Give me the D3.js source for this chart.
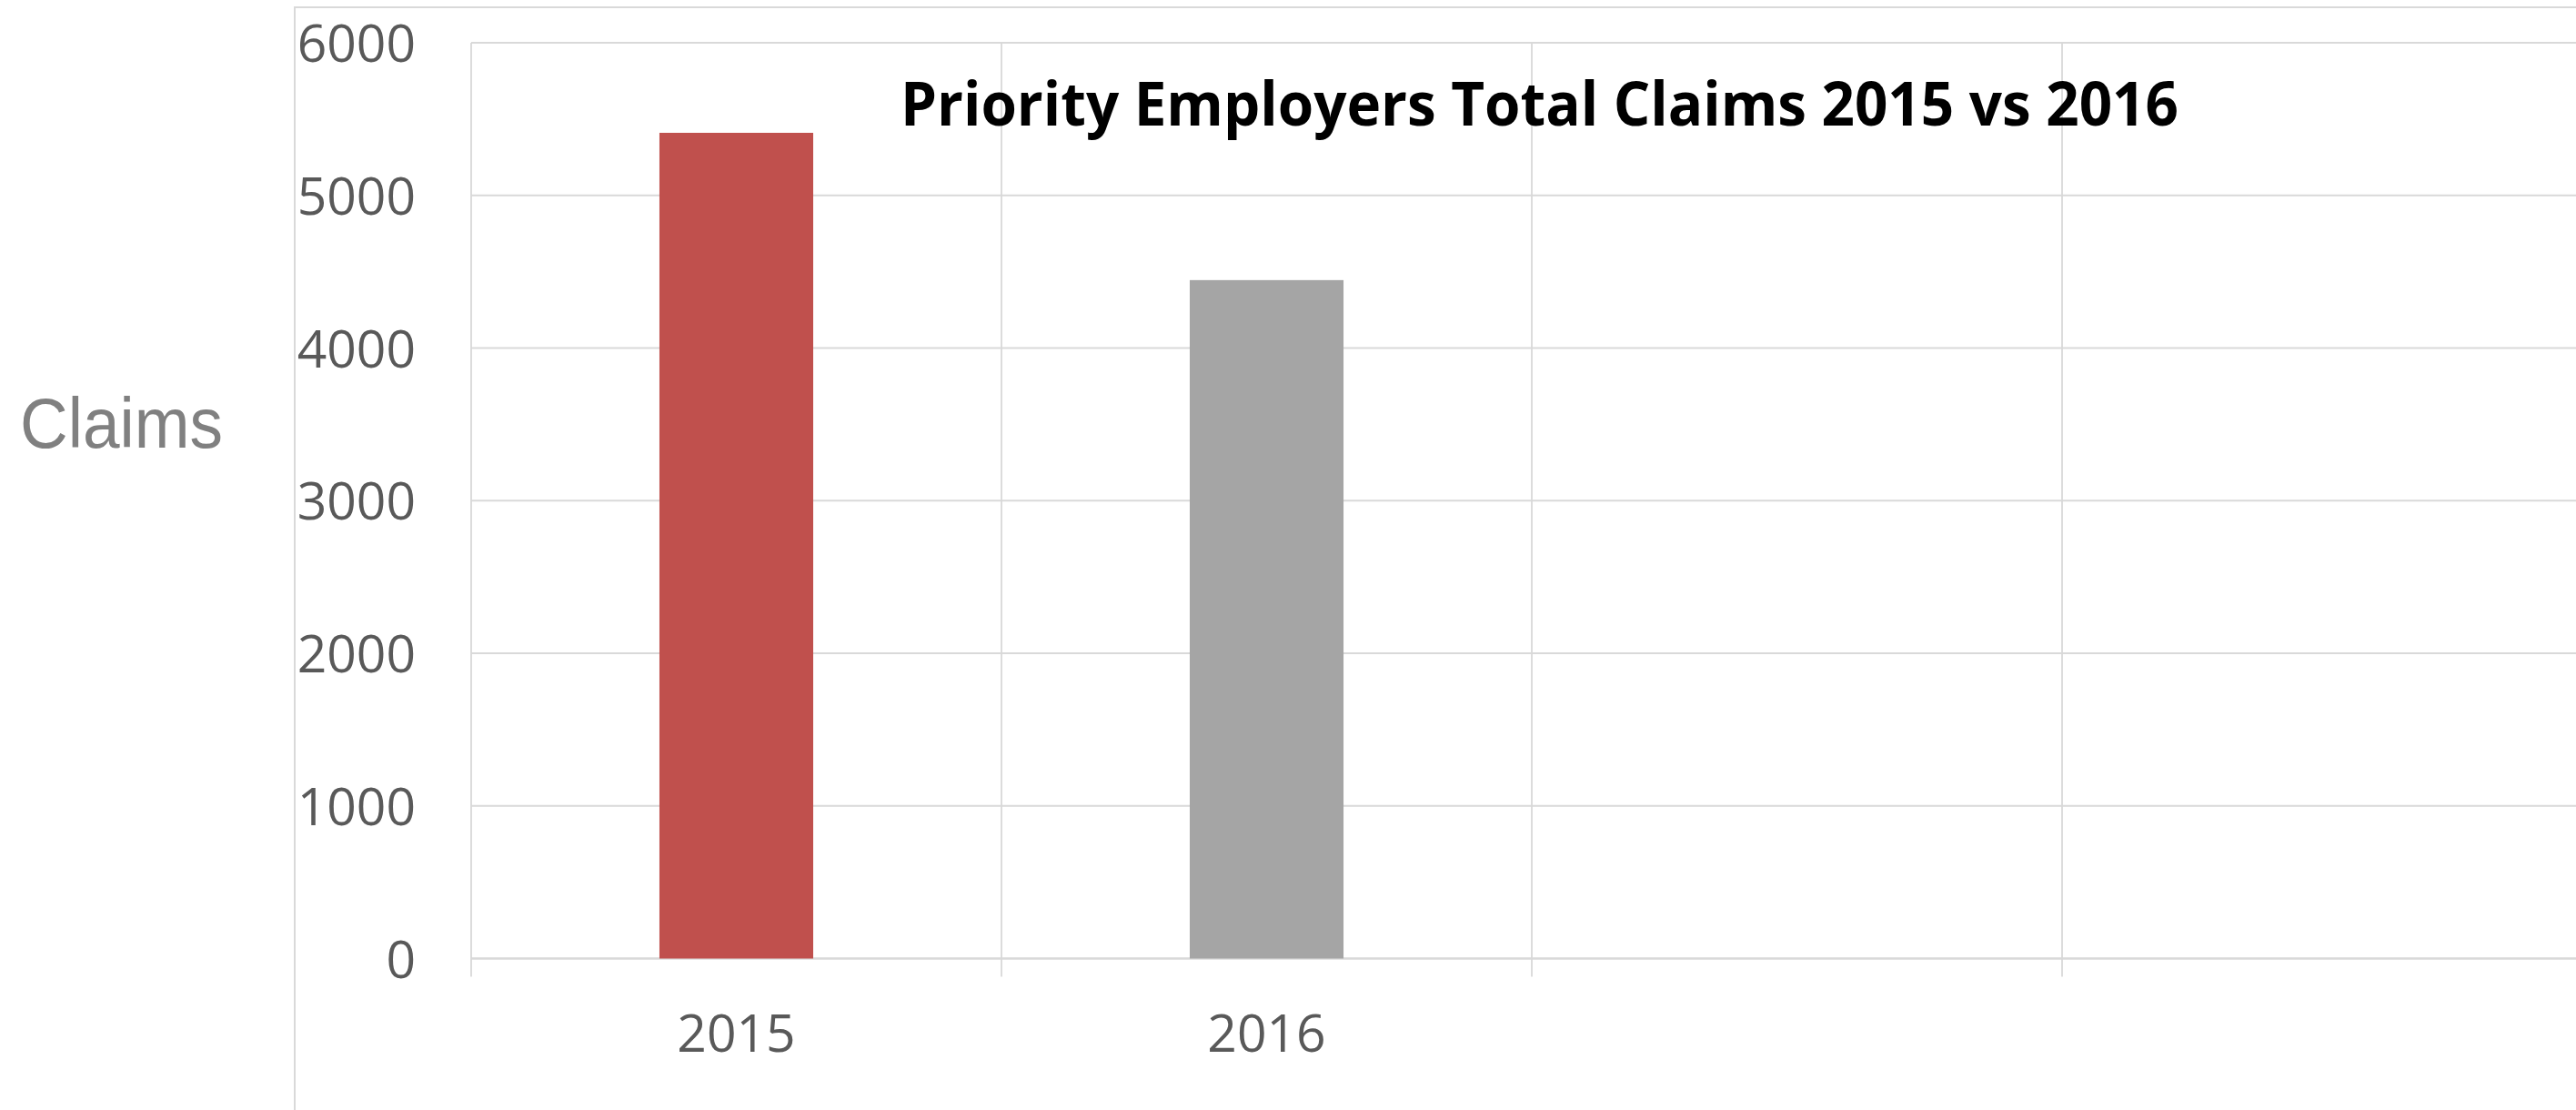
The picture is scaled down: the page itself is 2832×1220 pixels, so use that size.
<!DOCTYPE html>
<html>
<head>
<meta charset="utf-8">
<script src="https://cdn.jsdelivr.net/npm/d3@7"></script>
<style>
	body { margin: 0; background: #fff; }
	svg { display: block; }
</style>
</head>
<body>
<svg id="chart" width="2832" height="1220"></svg>
<script>
// chart data
var categories = ["2015", "2016"];
var claims = [5410, 4445];
var barColors = ["#C0504D", "#A5A5A5"];
var yTicks = [0, 1000, 2000, 3000, 4000, 5000, 6000];
var slotCount = 4; // two empty category slots on the right

var svg = d3.select("#chart");

var plot = {left: 518, top: 47, bottom: 1053.5, slot: 583};
plot.right = plot.left + plot.slot * slotCount;

var x = d3.scaleBand()
	.domain(d3.range(slotCount))
	.range([plot.left, plot.right])
	.paddingInner(0)
	.paddingOuter(0);

var y = d3.scaleLinear()
	.domain([0, 6000])
	.range([plot.bottom, plot.top]);

// outer chart frame
svg.append("rect")
	.attr("x", 324)
	.attr("y", 8)
	.attr("width", 2700)
	.attr("height", 1400)
	.attr("fill", "none")
	.attr("stroke", "#d9d9d9")
	.attr("stroke-width", 2);

// horizontal gridlines
svg.selectAll(".hgrid")
	.data(yTicks)
	.enter()
	.append("line")
	.attr("class", "hgrid")
	.attr("x1", plot.left)
	.attr("x2", plot.right)
	.attr("y1", function(d) {return y(d);})
	.attr("y2", function(d) {return y(d);})
	.attr("stroke", "#d9d9d9")
	.attr("stroke-width", function(d) {return d == 0 ? 2.5 : 1.8;});

// vertical category separators (with tick below the baseline)
var edges = d3.range(slotCount).map(function(i) {return x(i);}).concat([plot.right]);
svg.selectAll(".vgrid")
	.data(edges)
	.enter()
	.append("line")
	.attr("class", "vgrid")
	.attr("x1", function(d) {return d;})
	.attr("x2", function(d) {return d;})
	.attr("y1", plot.top)
	.attr("y2", plot.bottom + 20)
	.attr("stroke", "#d9d9d9")
	.attr("stroke-width", 1.8);

// bars
var barW = x.bandwidth() * 0.29;
svg.selectAll(".bar")
	.data(claims)
	.enter()
	.append("rect")
	.attr("class", "bar")
	.attr("x", function(d, i) {return x(i) + x.bandwidth() / 2 - barW / 2;})
	.attr("y", function(d) {return y(d);})
	.attr("width", barW)
	.attr("height", function(d) {return y(0) - y(d);})
	.attr("fill", function(d, i) {return barColors[i];});

// y axis labels
var yAxis = d3.axisLeft(y)
	.tickValues(yTicks)
	.tickSize(0)
	.tickPadding(61)
	.tickFormat(d3.format("d"));

var yg = svg.append("g")
	.attr("transform", "translate(" + plot.left + ",0)")
	.call(yAxis);
yg.select(".domain").remove();
yg.selectAll("text")
	.attr("font-family", "'Open Sans', 'Noto Sans', sans-serif")
	.attr("font-size", 57)
	.attr("fill", "#595959")
	.attr("dy", "0.36em");

// x axis labels
svg.selectAll(".xlab")
	.data(categories)
	.enter()
	.append("text")
	.attr("class", "xlab")
	.attr("x", function(d, i) {return x(i) + x.bandwidth() / 2;})
	.attr("y", 1156)
	.attr("text-anchor", "middle")
	.attr("font-family", "'Open Sans', 'Noto Sans', sans-serif")
	.attr("font-size", 57)
	.attr("fill", "#595959")
	.text(function(d) {return d;});

// axis title
svg.append("text")
	.attr("x", 22)
	.attr("y", 492)
	.attr("font-family", "'Liberation Sans', Arial, sans-serif")
	.attr("font-size", 78)
	.attr("fill", "#808080")
	.attr("textLength", 223)
	.attr("lengthAdjust", "spacingAndGlyphs")
	.text("Claims");

// chart title
svg.append("text")
	.attr("x", 990)
	.attr("y", 138)
	.attr("font-family", "'Open Sans', 'Noto Sans', sans-serif")
	.attr("font-weight", "bold")
	.attr("font-size", 66)
	.attr("fill", "#000")
	.attr("textLength", 1405)
	.attr("lengthAdjust", "spacingAndGlyphs")
	.text("Priority Employers Total Claims 2015 vs 2016");
</script>
</body>
</html>
